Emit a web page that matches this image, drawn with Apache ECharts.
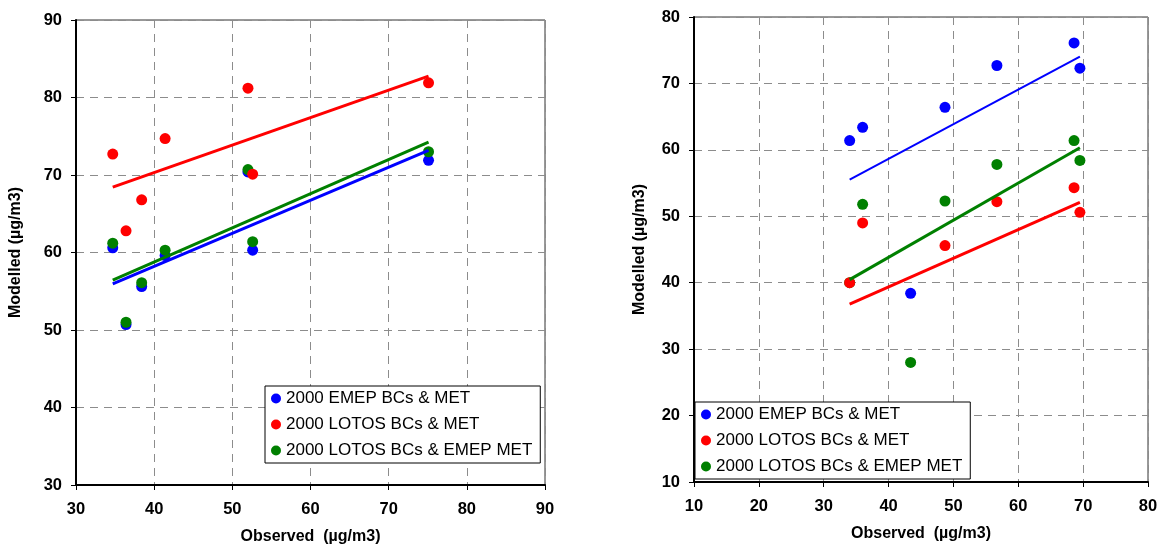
<!DOCTYPE html>
<html lang="en">
    <head>
        <meta charset="UTF-8" />
        <title>Observed vs Modelled</title>
        <script src="https://cdn.jsdelivr.net/npm/echarts@6/dist/echarts.min.js"></script>
        <style>
            html,
            body {
                margin: 0;
                padding: 0;
                background: #fff;
            }
            #chart {
                width: 1174px;
                height: 550px;
            }
        </style>
    </head>
    <body>
        <div id="chart"></div>
        <script>
            const seriesNames = [
                "2000 EMEP BCs & MET",
                "2000 LOTOS BCs & MET",
                "2000 LOTOS BCs & EMEP MET",
            ];
            const colors = ["#0000ff", "#ff0000", "#008000"];

            // left panel
            const leftObserved = [34.7, 36.4, 38.4, 41.4, 52.0, 52.6, 75.1];
            const leftEmep = [60.6, 50.7, 55.6, 59.6, 70.4, 60.3, 71.9];
            const leftLotos = [72.7, 62.8, 66.8, 74.7, 81.2, 70.1, 81.9];
            const leftLotosEmepMet = [61.2, 51.0, 56.1, 60.3, 70.7, 61.4, 73.0];
            const leftTicks = [30, 40, 50, 60, 70, 80, 90];

            // right panel
            const rightObserved = [34.0, 36.0, 43.4, 48.7, 56.7, 68.6, 69.5];
            const rightEmep = [61.4, 63.4, 38.4, 66.4, 72.7, 76.1, 72.3];
            const rightLotos = [40.0, 49.0, 17.0, 45.6, 52.2, 54.3, 50.6];
            const rightLotosEmepMet = [40.0, 51.8, 28.0, 52.3, 57.8, 61.4, 58.4];
            const rightTicks = [10, 20, 30, 40, 50, 60, 70, 80];

            const font = "Arial, 'Liberation Sans', sans-serif";

            // least squares trend line, drawn from min to max observed
            function trend(xs, ys) {
                const n = xs.length;
                const mx = xs.reduce((a, b) => a + b, 0) / n;
                const my = ys.reduce((a, b) => a + b, 0) / n;
                let sxy = 0,
                    sxx = 0;
                xs.forEach((x, i) => {
                    sxy += (x - mx) * (ys[i] - my);
                    sxx += (x - mx) * (x - mx);
                });
                const b = sxy / sxx;
                const a = my - b * mx;
                const x0 = Math.min(...xs);
                const x1 = Math.max(...xs);
                return [
                    [x0, a + b * x0],
                    [x1, a + b * x1],
                ];
            }

            const pairs = (xs, ys) => xs.map((x, i) => [x, ys[i]]);

            function makeAxis(ticks, name, isX, idx) {
                return {
                    type: "value",
                    gridIndex: idx,
                    min: ticks[0],
                    max: ticks[ticks.length - 1],
                    interval: 10,
                    name: name,
                    nameLocation: "middle",
                    nameGap: isX ? 44 : idx === 0 ? 52 : 46,
                    nameTextStyle: {
                        fontFamily: font,
                        fontWeight: "bold",
                        fontSize: 16,
                        color: "#000",
                    },
                    axisLine: {
                        show: true,
                        onZero: false,
                        lineStyle: { color: "#000", width: 2 },
                    },
                    axisTick: {
                        show: true,
                        inside: false,
                        length: 5,
                        lineStyle: { color: "#000", width: 1 },
                    },
                    axisLabel: {
                        fontFamily: font,
                        fontWeight: "bold",
                        fontSize: 16.5,
                        color: "#000",
                        margin: isX ? 16 : 14,
                    },
                    splitLine: {
                        show: true,
                        lineStyle: {
                            color: "#8c8c8c",
                            width: 1,
                            type: [8, 6],
                        },
                    },
                };
            }

            const panels = [
                {
                    xs: leftObserved,
                    ys: [leftEmep, leftLotos, leftLotosEmepMet],
                },
                {
                    xs: rightObserved,
                    ys: [rightEmep, rightLotos, rightLotosEmepMet],
                },
            ];

            const series = [];
            // scatter first (red drawn last so it sits on top)
            panels.forEach((p, gi) => {
                [0, 2, 1].forEach((k) => {
                    series.push({
                        name: seriesNames[k],
                        type: "scatter",
                        xAxisIndex: gi,
                        yAxisIndex: gi,
                        symbol: "circle",
                        symbolSize: 11,
                        itemStyle: { color: colors[k], opacity: 1 },
                        data: pairs(p.xs, p.ys[k]),
                    });
                });
            });
            // trend lines on top of the points
            panels.forEach((p, gi) => {
                [0, 1, 2].forEach((k) => {
                    series.push({
                        name: "trend " + gi + "-" + k,
                        type: "line",
                        xAxisIndex: gi,
                        yAxisIndex: gi,
                        symbol: "none",
                        silent: true,
                        lineStyle: {
                            color: colors[k],
                            width: gi === 1 && k === 0 ? 2 : 3,
                        },
                        data: trend(p.xs, p.ys[k]),
                    });
                });
            });

            const legendBase = {
                orient: "vertical",
                data: seriesNames,
                icon: "circle",
                itemWidth: 10,
                itemHeight: 10,
                itemGap: 9,
                padding: [4, 8, 4, 6],
                borderColor: "#000",
                borderWidth: 1,
                borderRadius: 0,
                backgroundColor: "#fff",
                selectedMode: false,
                textStyle: {
                    fontFamily: font,
                    fontSize: 17,
                    color: "#000",
                },
            };

            const chart = echarts.init(document.getElementById("chart"));
            chart.setOption({
                animation: false,
                backgroundColor: "#fff",
                grid: [
                    {
                        left: 76,
                        top: 20,
                        width: 469,
                        height: 465,
                        containLabel: false,
                        show: true,
                        borderColor: "#333",
                        borderWidth: 1,
                    },
                    {
                        left: 694,
                        top: 17,
                        width: 454,
                        height: 465,
                        containLabel: false,
                        show: true,
                        borderColor: "#333",
                        borderWidth: 1,
                    },
                ],
                xAxis: [
                    makeAxis(leftTicks, "Observed  (µg/m3)", true, 0),
                    makeAxis(rightTicks, "Observed  (µg/m3)", true, 1),
                ],
                yAxis: [
                    makeAxis(leftTicks, "Modelled (µg/m3)", false, 0),
                    makeAxis(rightTicks, "Modelled (µg/m3)", false, 1),
                ],
                legend: [
                    Object.assign({}, legendBase, { left: 265, top: 386 }),
                    Object.assign({}, legendBase, { left: 695, top: 402 }),
                ],
                series: series,
            });
        </script>
    </body>
</html>
